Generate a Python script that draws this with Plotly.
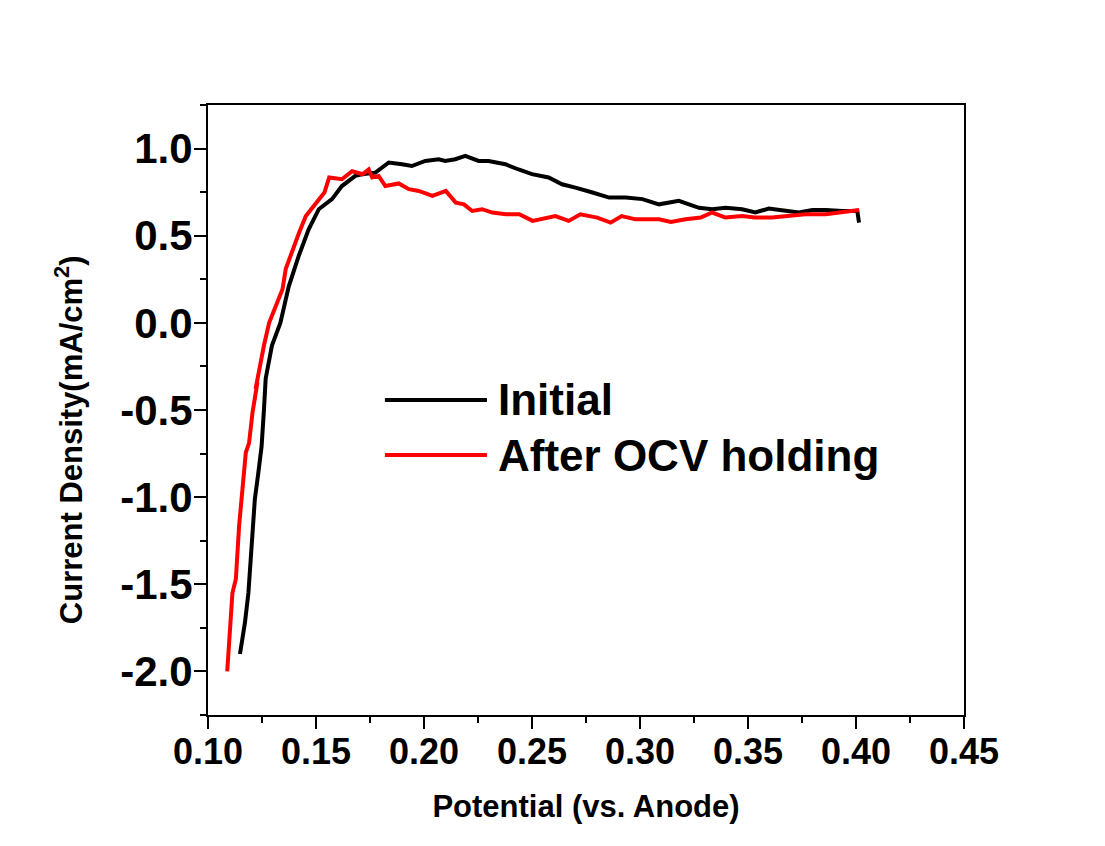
import plotly.graph_objects as go

# ---- data ----
initial_x = [0.1148, 0.1171, 0.1187, 0.1202, 0.1217, 0.1233, 0.1248, 0.1259, 0.1267,
             0.1296, 0.1335, 0.1374, 0.1420, 0.1466, 0.1513, 0.1574, 0.1620, 0.1682,
             0.1713, 0.1775, 0.1837, 0.1898, 0.1944, 0.2006, 0.2068, 0.2098, 0.2145,
             0.2191, 0.2253, 0.2299, 0.2377, 0.2438, 0.2500, 0.2577, 0.2639, 0.2701,
             0.2732, 0.2780, 0.2857, 0.2934, 0.3011, 0.3088, 0.3180, 0.3273, 0.3334,
             0.3396, 0.3473, 0.3534, 0.3596, 0.3674, 0.3736, 0.3798, 0.3860, 0.3937,
             0.3983, 0.4006, 0.4014]
initial_y = [-1.90, -1.72, -1.55, -1.28, -1.01, -0.86, -0.71, -0.50, -0.32,
             -0.13, 0.00, 0.21, 0.384, 0.537, 0.652, 0.71, 0.785, 0.843,
             0.853, 0.862, 0.92, 0.91, 0.90, 0.929, 0.939, 0.929, 0.939,
             0.958, 0.929, 0.929, 0.91, 0.88, 0.853, 0.834, 0.795, 0.776,
             0.767, 0.748, 0.719, 0.719, 0.71, 0.68, 0.70, 0.66, 0.652,
             0.66, 0.652, 0.633, 0.656, 0.642, 0.633, 0.648, 0.648, 0.642,
             0.642, 0.642, 0.575]

after_x = [0.1089, 0.1113, 0.1129, 0.1144, 0.1175, 0.1190, 0.1206, 0.1229, 0.1220,
           0.1259, 0.1283, 0.1314, 0.1345, 0.1360, 0.1391, 0.1422, 0.1453, 0.1500,
           0.1539, 0.1561, 0.1620, 0.1667, 0.1716, 0.1744, 0.1760, 0.1790, 0.1821,
           0.1883, 0.1930, 0.1976, 0.2039, 0.2101, 0.2147, 0.2185, 0.2223, 0.2269,
           0.2316, 0.2379, 0.2441, 0.2503, 0.2562, 0.2608, 0.2670, 0.2724, 0.2802,
           0.2864, 0.2915, 0.2980, 0.3088, 0.3143, 0.3211, 0.3281, 0.3334, 0.3395,
           0.3473, 0.3532, 0.3612, 0.3688, 0.3766, 0.3860, 0.3937, 0.3983, 0.4014]
after_y = [-2.00, -1.55, -1.47, -1.165, -0.744, -0.69, -0.515, -0.34, -0.38,
           -0.13, 0.00, 0.097, 0.193, 0.31, 0.42, 0.518, 0.613, 0.69,
           0.748, 0.834, 0.824, 0.87, 0.853, 0.88, 0.834, 0.843, 0.785,
           0.80, 0.767, 0.757, 0.728, 0.757, 0.69, 0.68, 0.642, 0.652,
           0.633, 0.623, 0.623, 0.585, 0.604, 0.613, 0.585, 0.623, 0.604,
           0.575, 0.613, 0.594, 0.594, 0.579, 0.594, 0.604, 0.633, 0.604,
           0.613, 0.604, 0.604, 0.613, 0.623, 0.623, 0.633, 0.642, 0.648]

series_names = ["Initial", "After OCV holding"]
series_colors = ["#000000", "#ff0000"]

x_ticks = [0.10, 0.15, 0.20, 0.25, 0.30, 0.35, 0.40, 0.45]
x_ticktext = ["0.10", "0.15", "0.20", "0.25", "0.30", "0.35", "0.40", "0.45"]
y_ticks = [1.0, 0.5, 0.0, -0.5, -1.0, -1.5, -2.0]
y_ticktext = ["1.0", "0.5", "0.0", "-0.5", "-1.0", "-1.5", "-2.0"]

x_title = "Potential (vs. Anode)"
y_title = "Current Density(mA/cm<sup>2</sup>)"

FONT = "Liberation Sans, Arial, sans-serif"

fig = go.Figure()
for xs, ys, name, col in [(initial_x, initial_y, series_names[0], series_colors[0]),
                          (after_x, after_y, series_names[1], series_colors[1])]:
    fig.add_trace(go.Scatter(x=xs, y=ys, mode="lines", name=name,
                             line=dict(color=col, width=4), showlegend=False))

# manual legend (Origin style: long line samples)
leg_y = [0.5164, 0.4262]
for yy, name, col in zip(leg_y, series_names, series_colors):
    fig.add_shape(type="line", xref="paper", yref="paper", x0=0.234, x1=0.369,
                  y0=yy, y1=yy, line=dict(color=col, width=4))
    fig.add_annotation(xref="paper", yref="paper", x=0.381, y=yy, text=name,
                       showarrow=False, xanchor="left", yanchor="middle",
                       font=dict(family=FONT, size=44, color="black", weight="bold"))

# y-axis title (placed slightly below centre, as in the reference)
fig.add_annotation(xref="paper", yref="paper", x=-0.184, y=0.452, text=y_title,
                   textangle=-90, showarrow=False, xanchor="center", yanchor="middle",
                   font=dict(family=FONT, size=31, color="black", weight="bold"))

axis_common = dict(showline=True, linecolor="black", linewidth=2, mirror=True,
                   ticks="outside", ticklen=12, tickwidth=2, tickcolor="black",
                   showgrid=False, zeroline=False)

fig.update_xaxes(range=[0.10, 0.45], tickvals=x_ticks, ticktext=x_ticktext,
                 tickfont=dict(family=FONT, size=36, color="black", weight="bold"),
                 ticklabelstandoff=-8,
                 minor=dict(ticks="outside", ticklen=6, tickwidth=2, tickcolor="black",
                            dtick=0.025, tick0=0.10),
                 title=dict(text=x_title, standoff=24,
                            font=dict(family=FONT, size=31, color="black", weight="bold")),
                 **axis_common)
fig.update_yaxes(range=[-2.25, 1.25], tickvals=y_ticks, ticktext=y_ticktext,
                 tickfont=dict(family=FONT, size=42, color="black", weight="bold"),
                 ticklabelstandoff=-7,
                 minor=dict(ticks="outside", ticklen=6, tickwidth=2, tickcolor="black",
                            dtick=0.25, tick0=0.0),
                 **axis_common)

fig.update_layout(width=1097, height=838, plot_bgcolor="white", paper_bgcolor="white",
                  margin=dict(l=200, r=141, t=97, b=131), showlegend=False)

fig.write_html("out.html")
